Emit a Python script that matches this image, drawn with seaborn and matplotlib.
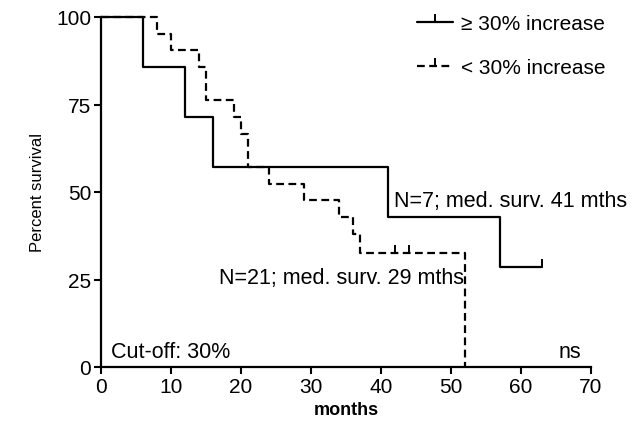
import matplotlib
matplotlib.use("Agg")
import matplotlib.pyplot as plt
import seaborn as sns
import pandas as pd
from matplotlib.lines import Line2D

# Data
hi_time = [0, 6, 12, 16, 41, 57, 63]
hi_surv = [100, 85.7, 71.4, 57.1, 42.9, 28.6, 28.6]
hi_cens_time = [63]
hi_cens_surv = [28.6]

lo_time = [0, 8, 10, 14, 15, 19, 20, 21, 24, 29, 34, 36, 37, 52]
lo_surv = [100, 95.2, 90.5, 85.7, 76.2, 71.4, 66.7, 57.1, 52.4, 47.6, 42.9, 38.1, 32.7, 0]
lo_cens_time = [42, 44]
lo_cens_surv = [32.7, 32.7]

labels = ["\u2265 30% increase", "< 30% increase"]
x_ticks = [0, 10, 20, 30, 40, 50, 60, 70]
y_ticks = [0, 25, 50, 75, 100]

sns.set_theme(style="ticks")
plt.rcParams['font.family'] = ['Liberation Sans', 'DejaVu Sans']
plt.rcParams['text.color'] = 'black'
plt.rcParams['axes.labelcolor'] = 'black'

fig = plt.figure(figsize=(6.36, 4.27), dpi=100)
ax = fig.add_axes([101/636, 1 - 368/427, 490/636, 350/427])

df_hi = pd.DataFrame({"t": hi_time, "s": hi_surv})
df_lo = pd.DataFrame({"t": lo_time, "s": lo_surv})

dash = (0, (3.5, 2))
sns.lineplot(data=df_hi, x="t", y="s", ax=ax, estimator=None, sort=False,
             drawstyle="steps-post", color="black", linewidth=1.6, clip_on=False)
sns.lineplot(data=df_lo, x="t", y="s", ax=ax, estimator=None, sort=False,
             drawstyle="steps-post", color="black", linewidth=1.6,
             linestyle=dash, clip_on=False)

# censor marks
ax.plot(hi_cens_time, hi_cens_surv, linestyle="none", marker=2, markersize=6,
        markeredgewidth=1.4, color="black", clip_on=False)
ax.plot(lo_cens_time, lo_cens_surv, linestyle="none", marker=2, markersize=6,
        markeredgewidth=1.4, color="black", clip_on=False)

ax.set_xlim(0, 70)
ax.set_ylim(0, 100)
ax.set_xticks(x_ticks)
ax.set_yticks(y_ticks)
ax.tick_params(axis="both", direction="out", length=5, width=1.5, color="black",
               labelsize=15, labelcolor="black", pad=2)
for side in ["top", "right"]:
    ax.spines[side].set_visible(False)
for side in ["left", "bottom"]:
    ax.spines[side].set_linewidth(1.6)
    ax.spines[side].set_color("black")

ax.set_xlabel("months", fontsize=13, fontweight="bold", labelpad=4)
ax.set_ylabel("Percent survival", fontsize=12, labelpad=8)

ax.text(41.8, 47.5, "N=7; med. surv. 41 mths", fontsize=15.5, va="center", ha="left")
ax.text(16.8, 25.5, "N=21; med. surv. 29 mths", fontsize=15.5, va="center", ha="left")
ax.text(1.45, 4.3, "Cut-off: 30%", fontsize=15.5, va="center", ha="left")
ax.text(67.0, 4.3, "ns", fontsize=15.5, va="center", ha="center")

handles = [
    Line2D([0], [0], color="black", linewidth=1.6, marker=2, markersize=6,
           markeredgewidth=1.4),
    Line2D([0], [0], color="black", linewidth=1.6, linestyle=dash,
           marker=2, markersize=6, markeredgewidth=1.4),
]
leg = ax.legend(handles, labels, loc="upper left", bbox_to_anchor=(417/636, 1 - 15/427),
                bbox_transform=fig.transFigure, frameon=False, fontsize=15,
                handlelength=1.75, handletextpad=0.35, labelspacing=1.2,
                borderaxespad=0, borderpad=0)

fig.savefig("out.png", dpi=100)
